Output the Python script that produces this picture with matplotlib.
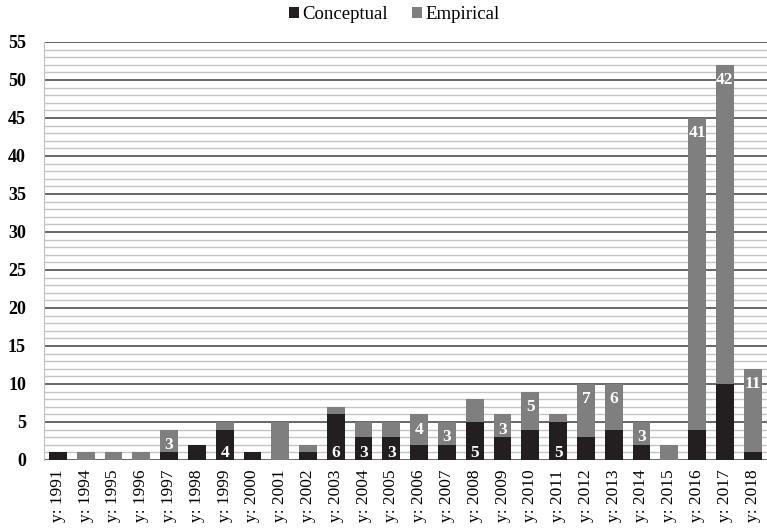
import numpy as np
import matplotlib
matplotlib.use('Agg')
import matplotlib.pyplot as plt
from matplotlib.ticker import MultipleLocator

plt.rcParams['font.family'] = ['Liberation Serif', 'DejaVu Serif']

# Publications per year
years = [1991, 1994, 1995, 1996, 1997, 1998, 1999, 2000, 2001, 2002, 2003, 2004, 2005, 2006,
         2007, 2008, 2009, 2010, 2011, 2012, 2013, 2014, 2015, 2016, 2017, 2018]
conceptual = [1, 0, 0, 0, 1, 2, 4, 1, 0, 1, 6, 3, 3, 2, 2, 5, 3, 4, 5, 3, 4, 2, 0, 4, 10, 1]
empirical = [0, 1, 1, 1, 3, 0, 1, 0, 5, 1, 1, 2, 2, 4, 3, 3, 3, 5, 1, 7, 6, 3, 2, 41, 42, 11]

# which segment carries a data label in the original
conc_labelled = [1999, 2003, 2004, 2005, 2008, 2011]
emp_labelled = [1997, 2006, 2007, 2009, 2010, 2012, 2013, 2014, 2016, 2017, 2018]

tick_labels = ['y: %d' % y for y in years]
dark = '#231f20'
grey = '#7f7f7f'

fig = plt.figure(figsize=(7.67, 5.28), dpi=100)
ax = fig.add_axes([0.0574, 0.1288, 0.942, 0.7917])

x = np.arange(len(years))
w = 0.64
ax.bar(x, conceptual, w, color=dark, label='Conceptual', zorder=3)
ax.bar(x, empirical, w, bottom=conceptual, color=grey, label='Empirical', zorder=3)

# data labels
for i, y in enumerate(years):
    if y in conc_labelled:
        ax.annotate(str(conceptual[i]), (x[i], 0), xytext=(0, -1), textcoords='offset points',
                    ha='center', va='bottom', color='white', fontsize=12.5, fontweight='bold', zorder=4)
    if y in emp_labelled:
        top = conceptual[i] + empirical[i]
        ax.annotate(str(empirical[i]), (x[i], top), xytext=(0, -11), textcoords='offset points',
                    ha='center', va='center', color='white', fontsize=12.5, fontweight='bold', zorder=4)

ax.set_xlim(-0.5, len(years) - 0.5)
ax.set_ylim(0, 55)
ax.yaxis.set_major_locator(MultipleLocator(5))
ax.yaxis.set_minor_locator(MultipleLocator(1))
ax.grid(which='minor', axis='y', color='#c4c4c4', linewidth=1.0, zorder=0)
ax.grid(which='major', axis='y', color='#4d4d4d', linewidth=1.2, zorder=1)

ax.set_xticks(x)
ax.set_xticklabels(tick_labels, rotation=90, fontsize=12.5)
ax.tick_params(axis='x', length=0, pad=7)
ax.tick_params(axis='y', which='both', length=0, pad=13, labelsize=13)
for lab in ax.get_yticklabels():
    lab.set_fontweight('bold')

for s in ['top', 'right', 'bottom']:
    ax.spines[s].set_visible(False)
ax.spines['left'].set_color('#bfbfbf')

fig.legend(loc='upper center', bbox_to_anchor=(0.514, 1.02), ncol=2, frameon=False,
           fontsize=13.5, handlelength=0.55, handleheight=0.55, handletextpad=0.15, columnspacing=1.3)

fig.savefig('out.png', dpi=100)
